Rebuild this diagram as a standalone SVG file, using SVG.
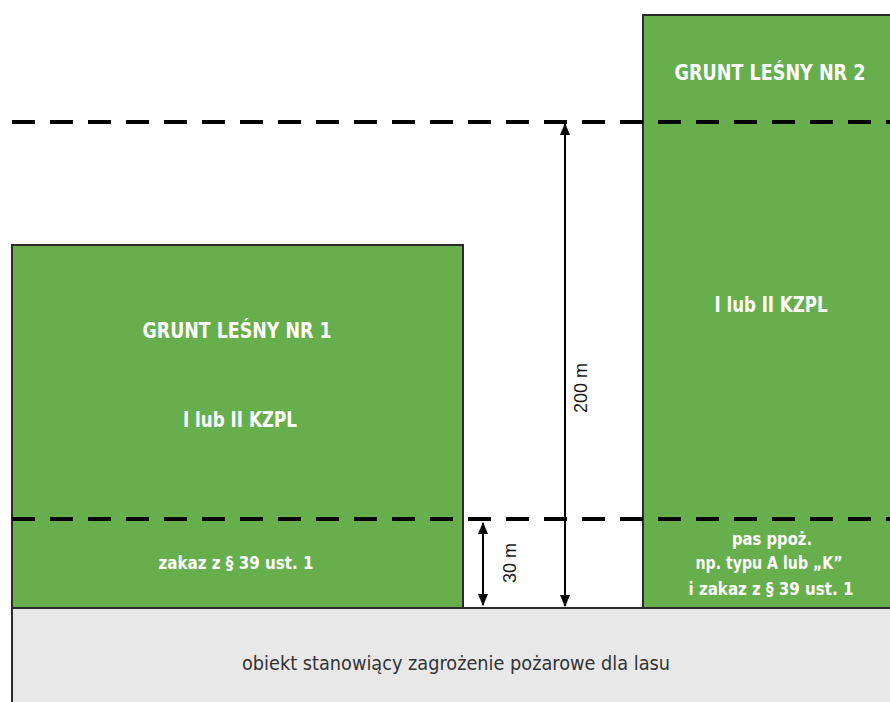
<svg xmlns="http://www.w3.org/2000/svg" width="890" height="702" viewBox="0 0 890 702">
<defs>
<style>
.green{fill:#67ae4c;stroke:#2b2b2b;stroke-width:2}
.base{fill:#e8e8e8;stroke:#2b2b2b;stroke-width:2}
.t{font-family:"Liberation Sans Narrow","DejaVu Sans Condensed","Liberation Sans",sans-serif;font-weight:bold;fill:#ffffff;text-anchor:middle}
.big{font-size:21px}
.small{font-size:17px}
.dim{font-family:"Liberation Sans","DejaVu Sans",sans-serif;font-size:18px;fill:#1a1a1a;text-anchor:middle}
.lbl{font-family:"Liberation Sans Narrow","DejaVu Sans Condensed","Liberation Sans",sans-serif;font-size:20px;fill:#333333;text-anchor:middle}
.dash{stroke:#000;stroke-width:4;stroke-dasharray:23 15;fill:none}
.arr{stroke:#000;stroke-width:2;fill:none;marker-start:url(#ah);marker-end:url(#ah)}
</style>
<marker id="ah" viewBox="0 0 12 10" refX="11" refY="5" markerWidth="6" markerHeight="5" orient="auto-start-reverse" markerUnits="strokeWidth">
<path d="M0,0 L12,5 L0,10 z" fill="#000"/>
</marker>
</defs>
<rect width="890" height="702" fill="#ffffff"/>
<g id="base">
<rect class="base" x="12" y="608" width="890" height="110"/>
<text class="lbl" x="456" y="670" textLength="428" lengthAdjust="spacingAndGlyphs">obiekt stanowiący zagrożenie pożarowe dla lasu</text>
</g>
<g id="grunt1">
<rect class="green" x="12" y="245" width="451" height="363"/>
<text class="t big" x="237" y="338" textLength="189" lengthAdjust="spacingAndGlyphs">GRUNT LEŚNY NR 1</text>
<text class="t big" x="240" y="427" textLength="114" lengthAdjust="spacingAndGlyphs">I lub II KZPL</text>
<text class="t small" x="236" y="569" textLength="155" lengthAdjust="spacingAndGlyphs">zakaz z § 39 ust. 1</text>
</g>
<g id="grunt2">
<rect class="green" x="643" y="15" width="260" height="593"/>
<text class="t big" x="770" y="80" textLength="191" lengthAdjust="spacingAndGlyphs">GRUNT LEŚNY NR 2</text>
<text class="t big" x="771" y="312" textLength="113" lengthAdjust="spacingAndGlyphs">I lub II KZPL</text>
<text class="t small" x="772" y="545" textLength="80" lengthAdjust="spacingAndGlyphs">pas ppoż.</text>
<text class="t small" x="769" y="569" textLength="147" lengthAdjust="spacingAndGlyphs">np. typu A lub „K”</text>
<text class="t small" x="771" y="595" textLength="165" lengthAdjust="spacingAndGlyphs">i zakaz z § 39 ust. 1</text>
</g>
<g id="connectors">
<line class="dash" x1="12" y1="122" x2="890" y2="122"/>
<line class="dash" x1="12" y1="519" x2="890" y2="519"/>
<line class="arr" x1="565" y1="124" x2="565" y2="606"/>
<line class="arr" x1="483" y1="523" x2="483" y2="605"/>
<text class="dim" transform="translate(587,388) rotate(-90)">200 m</text>
<text class="dim" transform="translate(516,563) rotate(-90)">30 m</text>
</g>
</svg>
